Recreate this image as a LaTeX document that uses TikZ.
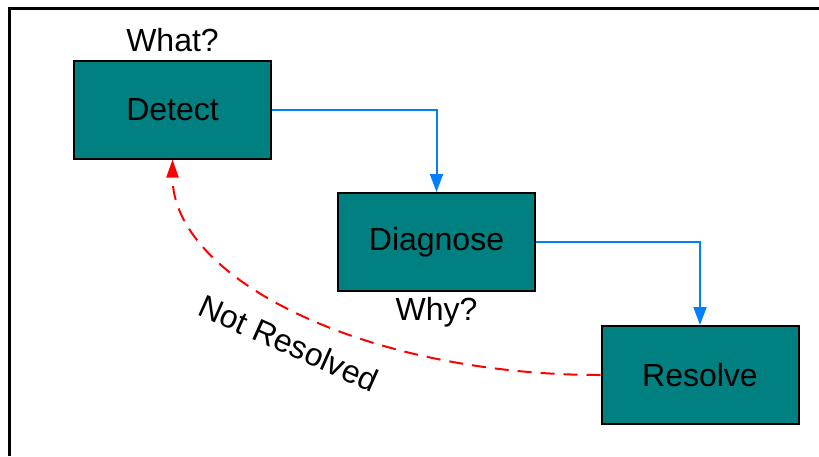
\documentclass[tikz,border=0pt]{standalone}
\usepackage{fontspec}
\setmainfont{Liberation Sans}
\usetikzlibrary{arrows.meta}
\definecolor{boxteal}{RGB}{0,128,128}
\definecolor{flowblue}{RGB}{0,128,255}
\begin{document}
\begin{tikzpicture}[x=1pt,y=-1pt,
  font=\fontsize{32}{38}\selectfont,
  stepbox/.style={draw=black, line width=2pt, fill=boxteal, minimum width=197pt, minimum height=98pt, inner sep=0pt},
  flow/.style={draw=flowblue, line width=2pt, -{Triangle[length=18pt,width=13pt]}},
  backflow/.style={draw=red, line width=2pt, dash pattern=on 14pt off 9pt, -{Triangle[length=18pt,width=12pt]}},
  lbl/.style={inner sep=0pt, anchor=base}]
\useasboundingbox (0,0) rectangle (819,456);
\draw[line width=3pt] (9.5,456) -- (9.5,8.5) -- (819,8.5);
\node[stepbox] (det) at (172.5,109.5) {Detect};
\node[stepbox] (dia) at (436.5,242) {Diagnose};
\node[stepbox] (res) at (700,375) {Resolve};
\node[lbl] (what) at (172.5,51.5) {What?};
\node[lbl] (why) at (436.5,320) {Why?};
\draw[flow] (det.east) -| (dia.north);
\draw[flow] (dia.east) -| (res.north);
\draw[backflow] (res.west) .. controls +(-236,0) and +(0,119) .. (det.south);
\node[rotate=-24, inner sep=0pt] (nr) at (289,343) {Not Resolved};
\end{tikzpicture}
\end{document}
